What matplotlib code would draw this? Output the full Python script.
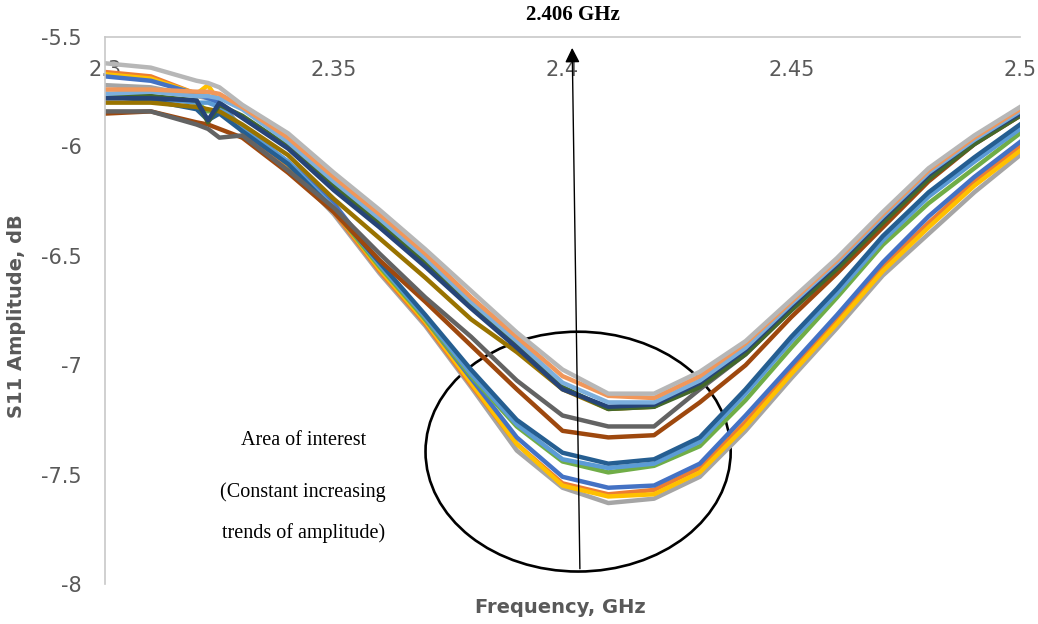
import numpy as np
import matplotlib
matplotlib.use('Agg')
import matplotlib.pyplot as plt
from matplotlib.patches import Ellipse

# Frequency points (GHz)
freq = [2.30, 2.31, 2.32, 2.3225, 2.325, 2.33, 2.34, 2.35, 2.36, 2.37, 2.38, 2.39,
        2.40, 2.41, 2.42, 2.43, 2.44, 2.45, 2.46, 2.47, 2.48, 2.49, 2.50]

s_gray_top = [-5.62, -5.64, -5.70, -5.71, -5.73, -5.81, -5.94, -6.12, -6.29, -6.47, -6.66, -6.85,
              -7.02, -7.13, -7.13, -7.03, -6.89, -6.70, -6.51, -6.30, -6.10, -5.95, -5.82]
s_lt_orange = [-5.74, -5.74, -5.75, -5.75, -5.76, -5.82, -5.96, -6.14, -6.31, -6.49, -6.69, -6.87,
               -7.05, -7.14, -7.15, -7.05, -6.90, -6.71, -6.52, -6.31, -6.11, -5.96, -5.83]
s_lt_blue = [-5.76, -5.75, -5.77, -5.77, -5.78, -5.83, -5.98, -6.16, -6.33, -6.51, -6.71, -6.89,
             -7.08, -7.17, -7.17, -7.07, -6.92, -6.72, -6.53, -6.32, -6.12, -5.97, -5.84]
s_dk_blue = [-5.78, -5.78, -5.79, -5.88, -5.80, -5.87, -6.01, -6.20, -6.37, -6.55, -6.74, -6.92,
             -7.11, -7.19, -7.18, -7.08, -6.93, -6.73, -6.54, -6.33, -6.13, -5.97, -5.85]
s_dk_green = [-5.77, -5.77, -5.79, -5.89, -5.81, -5.86, -6.00, -6.18, -6.35, -6.53, -6.72, -6.91,
              -7.10, -7.20, -7.19, -7.10, -6.95, -6.75, -6.56, -6.35, -6.15, -5.99, -5.86]
s_dk_gold = [-5.80, -5.80, -5.82, -5.83, -5.84, -5.90, -6.04, -6.24, -6.42, -6.60, -6.79, -6.94,
             -7.11, -7.20, -7.19, -7.08, -6.93, -6.72, -6.53, -6.32, -6.12, -5.96, -5.84]
s_dk_gray = [-5.84, -5.84, -5.90, -5.92, -5.96, -5.95, -6.11, -6.28, -6.49, -6.69, -6.87, -7.07,
             -7.23, -7.28, -7.28, -7.11, -6.95, -6.74, -6.54, -6.33, -6.13, -5.97, -5.84]
s_dk_orange = [-5.85, -5.84, -5.89, -5.90, -5.92, -5.96, -6.12, -6.30, -6.52, -6.71, -6.91, -7.11,
               -7.30, -7.33, -7.32, -7.17, -7.00, -6.78, -6.58, -6.37, -6.16, -5.99, -5.86]
s_steel = [-5.77, -5.79, -5.83, -5.88, -5.85, -5.93, -6.08, -6.29, -6.53, -6.77, -7.02, -7.25,
           -7.40, -7.45, -7.43, -7.33, -7.11, -6.87, -6.65, -6.41, -6.21, -6.05, -5.90]
s_sky = [-5.76, -5.78, -5.80, -5.80, -5.82, -5.91, -6.07, -6.28, -6.54, -6.78, -7.04, -7.27,
         -7.43, -7.47, -7.45, -7.35, -7.13, -6.89, -6.67, -6.43, -6.23, -6.07, -5.92]
s_green = [-5.76, -5.77, -5.80, -5.84, -5.83, -5.92, -6.08, -6.29, -6.55, -6.79, -7.05, -7.28,
           -7.44, -7.49, -7.46, -7.37, -7.16, -6.92, -6.69, -6.45, -6.26, -6.10, -5.94]
s_blue = [-5.68, -5.70, -5.76, -5.78, -5.80, -5.92, -6.07, -6.26, -6.53, -6.79, -7.06, -7.33,
          -7.51, -7.56, -7.55, -7.45, -7.23, -7.00, -6.77, -6.53, -6.32, -6.14, -5.98]
s_orange = [-5.66, -5.68, -5.76, -5.77, -5.80, -5.93, -6.09, -6.30, -6.57, -6.81, -7.09, -7.36,
            -7.54, -7.59, -7.57, -7.47, -7.26, -7.02, -6.79, -6.55, -6.35, -6.16, -6.00]
s_gold = [-5.67, -5.69, -5.76, -5.72, -5.80, -5.92, -6.08, -6.29, -6.56, -6.80, -7.08, -7.36,
          -7.55, -7.60, -7.59, -7.49, -7.28, -7.04, -6.81, -6.57, -6.37, -6.18, -6.02]
s_gray = [-5.72, -5.73, -5.77, -5.78, -5.80, -5.93, -6.09, -6.31, -6.58, -6.82, -7.10, -7.39,
          -7.56, -7.63, -7.61, -7.51, -7.30, -7.06, -6.83, -6.59, -6.40, -6.21, -6.04]

# drawing order (first drawn = bottom) with Excel palette colours
series = [
    (s_gray, '#A5A5A5'), (s_orange, '#ED7D31'), (s_gold, '#FFC000'), (s_blue, '#4472C4'),
    (s_green, '#70AD47'), (s_sky, '#5B9BD5'), (s_steel, '#255E91'),
    (s_dk_orange, '#9E480E'), (s_dk_gray, '#636363'),
    (s_dk_gold, '#997300'), (s_dk_green, '#43682B'), (s_dk_blue, '#264478'),
    (s_lt_blue, '#7CAFDD'), (s_lt_orange, '#F1975A'), (s_gray_top, '#B7B7B7'),
]

xticks = [2.3, 2.35, 2.4, 2.45, 2.5]
xtick_labels = ['2.3', '2.35', '2.4', '2.45', '2.5']
yticks = [-8, -7.5, -7, -6.5, -6, -5.5]
ytick_labels = ['-8', '-7.5', '-7', '-6.5', '-6', '-5.5']

fig = plt.figure(figsize=(10.38, 6.24), dpi=100)
ax = fig.add_axes([0.1012, 0.0641, 0.8815, 0.8766])

for vals, col in series:
    ax.plot(freq, vals, color=col, lw=3.2, solid_joinstyle='round')

ax.set_xlim(2.3, 2.5)
ax.set_ylim(-8, -5.5)

# axis styling, x labels sit at the top inside the plot
for side in ['right', 'bottom']:
    ax.spines[side].set_visible(False)
for side in ['left', 'top']:
    ax.spines[side].set_color('#C8C8C8')
    ax.spines[side].set_linewidth(1.2)

ax.xaxis.tick_top()
ax.set_xticks(xticks)
ax.set_xticklabels(xtick_labels)
ax.set_yticks(yticks)
ax.set_yticklabels(ytick_labels)
ax.tick_params(axis='x', length=0, pad=-31, labelsize=15, labelcolor='#595959')
ax.tick_params(axis='y', length=0, pad=17, labelsize=15, labelcolor='#595959')

ax.set_ylabel('S11 Amplitude, dB', fontsize=14, fontweight='bold', color='#595959')
ax.yaxis.set_label_coords(-0.086, 0.49)
ax.set_xlabel('Frequency, GHz', fontsize=14, fontweight='bold', color='#595959')
ax.xaxis.set_label_position('bottom')
ax.xaxis.set_label_coords(0.498, -0.025)

# area of interest
ax.add_patch(Ellipse((2.4034, -7.395), 0.0667, 1.096, fill=False, ec='black', lw=1.9))
ax.text(2.3433, -7.345, 'Area of interest', family='Liberation Serif', fontsize=14.5,
        ha='center', va='center')
ax.text(2.3433, -7.578, '(Constant increasing', family='Liberation Serif', fontsize=14.5,
        ha='center', va='center')
ax.text(2.3433, -7.769, 'trends of amplitude)', family='Liberation Serif', fontsize=14.5,
        ha='center', va='center')

# resonance arrow
ax.annotate('', xy=(2.4021, -5.537), xytext=(2.4038, -7.943),
            arrowprops=dict(arrowstyle='-|>', color='black', lw=1, mutation_scale=22),
            annotation_clip=False)
ax.text(2.4023, -5.40, '2.406 GHz', family='Liberation Serif', fontsize=15,
        fontweight='bold', ha='center', va='center', clip_on=False)

fig.savefig('out.png', dpi=100)
